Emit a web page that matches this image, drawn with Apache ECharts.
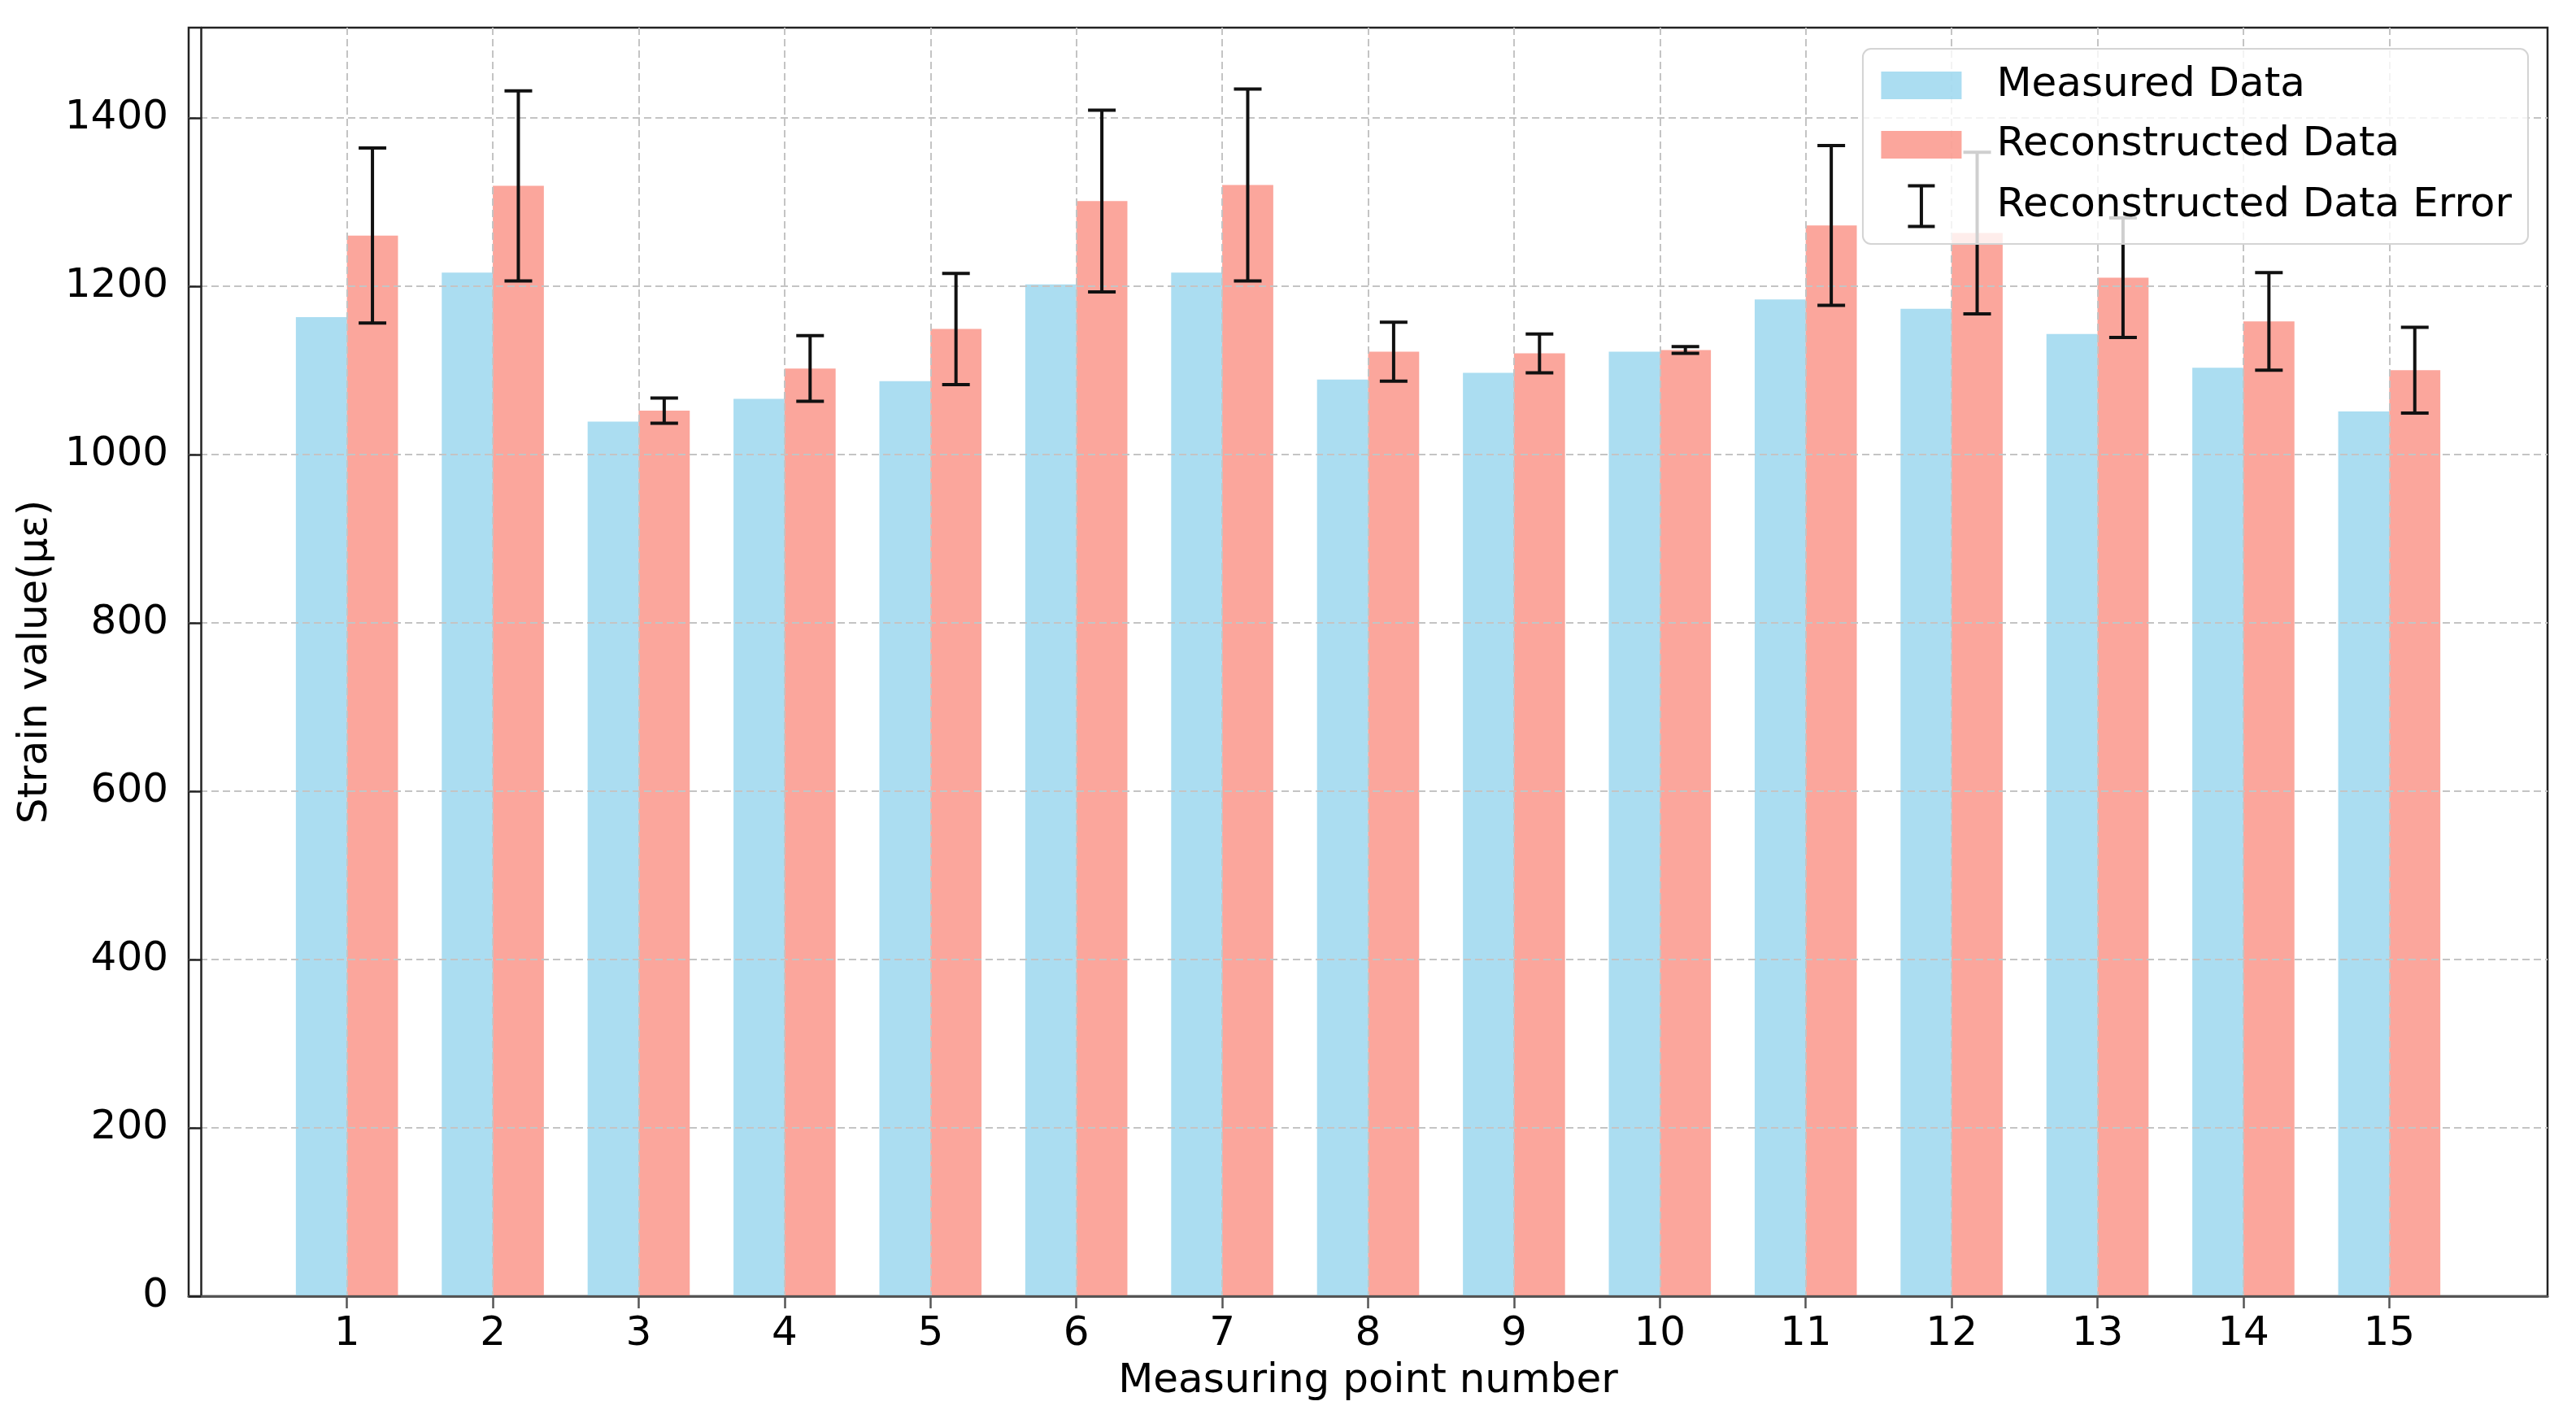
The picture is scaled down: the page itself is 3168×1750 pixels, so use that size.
<!DOCTYPE html>
<html>
<head>
<meta charset="utf-8">
<script src="https://cdn.jsdelivr.net/npm/echarts@6/dist/echarts.min.js"></script>
<style>
  html, body { margin: 0; padding: 0; background: #fff; }
  #chart { width: 3168px; height: 1750px; }
</style>
</head>
<body>
<div id="chart"></div>
<script>
// ---- data ----
const categories = [1, 2, 3, 4, 5, 6, 7, 8, 9, 10, 11, 12, 13, 14, 15];
const measured = [1163, 1216, 1039, 1066, 1087, 1202, 1216, 1089, 1097, 1122, 1184, 1173, 1143, 1103, 1051];
const reconstructed = [1260, 1319, 1052, 1102, 1149, 1301, 1320, 1122, 1120, 1124, 1272, 1263, 1210, 1158, 1100];
const reconError = [104, 113, 15, 39, 66, 108, 114, 35, 23, 4, 95, 96, 71, 58, 51];
const yTicks = [0, 200, 400, 600, 800, 1000, 1200, 1400];

const BAR_W = 0.35;
const FONT = 'DejaVu Sans';
const BLUE = 'rgba(135,206,235,0.7)';
const RED = 'rgba(250,128,114,0.7)';

const chart = echarts.init(document.getElementById('chart'), null, { renderer: 'canvas' });

function barRender(offsetLeft, color) {
  return function (params, api) {
    const x = api.value(0), v = api.value(1);
    const p0 = api.coord([x + offsetLeft, v]);
    const p1 = api.coord([x + offsetLeft + BAR_W, 0]);
    return {
      type: 'rect',
      shape: { x: p0[0], y: p0[1], width: p1[0] - p0[0], height: p1[1] - p0[1] },
      style: { fill: color }
    };
  };
}

function errRender(params, api) {
  const x = api.value(0), v = api.value(1), e = api.value(2);
  const top = api.coord([x, v + e]);
  const bot = api.coord([x, v - e]);
  const cap = 17;
  const st = { stroke: '#111', lineWidth: 4, fill: null };
  return {
    type: 'group',
    children: [
      { type: 'line', shape: { x1: top[0], y1: top[1], x2: bot[0], y2: bot[1] }, style: st },
      { type: 'line', shape: { x1: top[0] - cap, y1: top[1], x2: top[0] + cap, y2: top[1] }, style: st },
      { type: 'line', shape: { x1: bot[0] - cap, y1: bot[1], x2: bot[0] + cap, y2: bot[1] }, style: st }
    ]
  };
}

const splitStyle = { color: '#c4c4c4', width: 2, type: [9, 5] };

chart.setOption({
  animation: false,
  backgroundColor: '#fff',
  grid: {
    left: 232, right: 35, top: 34, bottom: 156,
    show: true, borderColor: '#222', borderWidth: 2.5, backgroundColor: 'transparent'
  },
  legend: {
    show: true,
    orient: 'vertical',
    right: 59, top: 60,
    z: 10,
    selectedMode: false,
    itemWidth: 99, itemHeight: 52, itemGap: 21,
    padding: [19, 20, 18, 20],
    backgroundColor: 'rgba(255,255,255,0.8)',
    borderColor: '#d4d4d4', borderWidth: 2, borderRadius: 10,
    textStyle: { fontFamily: FONT, fontSize: 50, color: '#000', lineHeight: 52, padding: [0, 0, 0, 38] },
    data: [
      { name: 'Measured Data', icon: 'path://M0,9 L99,9 L99,43 L0,43 Z M0,0 M99,52',
        itemStyle: { color: BLUE, borderWidth: 0 } },
      { name: 'Reconstructed Data', icon: 'path://M0,9 L99,9 L99,43 L0,43 Z M0,0 M99,52',
        itemStyle: { color: RED, borderWidth: 0 } },
      { name: 'Reconstructed Data Error', icon: 'path://M0,0 M99,52 M33,1 L66,1 M49.5,1 L49.5,51 M33,51 L66,51',
        itemStyle: { color: 'none', borderColor: '#111', borderWidth: 4 } }
    ]
  },
  xAxis: {
    type: 'value',
    min: -0.085, max: 16.085,
    z: 3,
    name: 'Measuring point number',
    nameLocation: 'middle',
    nameGap: 80,
    nameTextStyle: { fontFamily: FONT, fontSize: 50, color: '#000' },
    axisLine: { show: true, onZero: false, lineStyle: { color: '#555', width: 3 } },
    axisTick: { show: true, inside: false, length: 15, customValues: categories, lineStyle: { color: '#555', width: 2.5 } },
    axisLabel: { show: true, customValues: categories, margin: 22, fontFamily: FONT, fontSize: 50, color: '#000',
      formatter: v => String(v) },
    splitLine: { show: true, lineStyle: splitStyle }
  },
  yAxis: {
    type: 'value',
    min: 0, max: 1507,
    z: 3,
    name: 'Strain value(\u03bc\u03b5)',
    nameLocation: 'middle',
    nameGap: 144,
    nameRotate: 90,
    nameTextStyle: { fontFamily: FONT, fontSize: 50, color: '#000' },
    axisLine: { show: true, lineStyle: { color: '#222', width: 2.5 } },
    axisTick: { show: true, inside: false, length: 15, customValues: yTicks, lineStyle: { color: '#222', width: 2.5 } },
    axisLabel: { show: true, customValues: yTicks, margin: 25, fontFamily: FONT, fontSize: 50, color: '#000',
      formatter: v => String(v) },
    splitLine: { show: true, lineStyle: splitStyle }
  },
  series: [
    {
      name: 'Measured Data',
      type: 'custom',
      z: 2,
      itemStyle: { color: BLUE },
      renderItem: barRender(-BAR_W, BLUE),
      encode: { x: 0, y: 1 },
      data: categories.map((c, i) => [c, measured[i]])
    },
    {
      name: 'Reconstructed Data',
      type: 'custom',
      z: 2,
      itemStyle: { color: RED },
      renderItem: barRender(0, RED),
      encode: { x: 0, y: 1 },
      data: categories.map((c, i) => [c, reconstructed[i]])
    },
    {
      name: 'Reconstructed Data Error',
      type: 'custom',
      z: 5,
      itemStyle: { color: '#111' },
      renderItem: errRender,
      encode: { x: 0, y: 1 },
      data: categories.map((c, i) => [c + BAR_W / 2, reconstructed[i], reconError[i]])
    }
  ]
});
</script>
</body>
</html>
